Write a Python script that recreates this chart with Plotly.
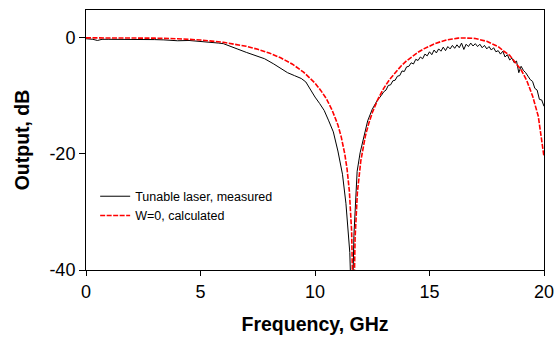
import plotly.graph_objects as go

# Measured (tunable laser) response
meas_f = [0.0, 0.3, 0.5, 0.7, 1.0, 1.5, 2.0, 2.45, 2.6, 3.0, 3.4, 3.7, 4.0, 4.5, 5.0, 5.5, 5.8,
          6.0, 6.3, 6.6, 7.0, 7.4, 7.8, 8.2, 8.5, 8.8, 9.1, 9.4, 9.6, 9.8, 10.0, 10.2,
          10.4, 10.6, 10.8, 11.0, 11.2, 11.35, 11.45, 11.52, 11.58, 11.64, 11.7, 11.75,
          11.84, 11.97, 12.1, 12.3, 12.5, 12.7,
          12.9, 13.0, 13.1, 13.2, 13.3, 13.4, 13.5, 13.6, 13.7, 13.8, 13.9, 14.0, 14.1,
          14.2, 14.3, 14.4, 14.5, 14.6, 14.7, 14.8, 14.9, 15.0, 15.1, 15.2, 15.3, 15.4,
          15.5, 15.6, 15.7, 15.8, 15.9, 16.0, 16.1, 16.2, 16.3, 16.4, 16.5, 16.6, 16.7,
          16.8, 16.9, 17.0, 17.1, 17.2, 17.3, 17.4, 17.5, 17.6, 17.7, 17.8, 17.9, 18.0,
          18.1, 18.2, 18.3, 18.4, 18.5, 18.6, 18.7, 18.8, 18.9, 19.0, 19.1, 19.2, 19.3,
          19.4, 19.5, 19.6, 19.7, 19.8, 19.9, 20.0]
meas_db = [-0.15, -0.25, -0.45, -0.25, -0.25, -0.25, -0.25, -0.2, -0.3, -0.3, -0.35, -0.45, -0.5, -0.45, -0.6, -0.7, -0.9,
           -1.0, -1.5, -1.9, -2.5, -3.0, -3.6, -4.5, -5.3, -6.0, -6.5, -7.0, -7.6, -9.0, -10.2, -11.3,
           -12.5, -14.3, -16.2, -19.5, -23.5, -28.5, -33.0, -37.0, -45.0, -45.0, -34.0, -29.0,
           -23.0, -19.8, -17.5, -14.3, -12.3, -10.9,
           -9.9, -9.3, -9.0, -8.2, -8.1, -7.4, -7.3, -6.6, -6.5, -5.7, -5.8, -5.0, -4.9,
           -4.3, -4.5, -3.7, -3.9, -3.3, -3.6, -2.8, -3.1, -2.4, -2.9, -2.1, -2.6, -1.9,
           -2.3, -1.6, -2.2, -1.5, -1.9, -1.3, -1.8, -1.2, -1.7, -0.9, -2.0, -1.1, -1.5,
           -0.9, -1.4, -1.0, -1.5, -1.1, -1.7, -1.3, -1.9, -1.5, -2.1, -1.7, -2.4, -2.2,
           -2.8, -2.3, -3.3, -2.9, -3.8, -3.5, -4.3, -4.0, -6.0, -4.9, -5.6, -6.0, -6.6,
           -7.2, -7.5, -8.7, -9.0, -10.6, -10.7, -11.8]

# Calculated response (W=0)
calc_f = [0, 1, 2, 3, 4, 5, 6, 6.5, 7, 7.5, 8, 8.5, 9, 9.5, 10, 10.25, 10.5, 10.75, 11, 11.15,
          11.3, 11.4, 11.5, 11.6, 11.68, 11.75, 11.85, 12.0, 12.1, 12.2, 12.35, 12.5, 12.75,
          13.0, 13.25, 13.5, 13.75, 14.0, 14.25, 14.5, 14.75, 15.0, 15.25, 15.5, 15.75, 16.0,
          16.25, 16.5, 16.75, 17.0, 17.25, 17.5, 17.75, 18.0, 18.25, 18.5, 18.75, 19.0, 19.25,
          19.5, 19.75, 20.0]
calc_db = [0, 0, -0.01, -0.05, -0.15, -0.37, -0.77, -1.07, -1.46, -1.97, -2.6, -3.44, -4.5, -5.9,
           -7.8, -9.05, -10.5, -12.47, -15.0, -17.15, -20.0, -22.6, -26.4, -33.4, -50, -34.5,
           -26.7, -21.2, -18.8, -16.9, -14.7, -12.9, -10.56, -8.7, -7.22, -5.95, -4.88, -3.95,
           -3.17, -2.48, -1.9, -1.4, -0.97, -0.65, -0.35, -0.2, -0.04, -0.02, -0.05, -0.1,
           -0.36, -0.6, -1.07, -1.5, -2.31, -3.0, -4.27, -5.5, -7.39, -10.0, -13.5, -20.5]

x_ticks = [0, 5, 10, 15, 20]
y_ticks = [-40, -20, 0]

fig = go.Figure()
fig.add_trace(go.Scatter(x=meas_f, y=meas_db, mode="lines", name="Tunable laser, measured",
                         line=dict(color="black", width=1)))
fig.add_trace(go.Scatter(x=calc_f, y=calc_db, mode="lines", name="W=0, calculated",
                         line=dict(color="#ff0000", width=1.6, dash="5px,1.5px")))

font_family = "Liberation Sans, Arial, sans-serif"
fig.update_layout(
    width=554, height=341,
    margin=dict(l=86, r=10, t=10, b=71, autoexpand=False),
    paper_bgcolor="white", plot_bgcolor="white",
    font=dict(family=font_family, color="black"),
    showlegend=True,
    legend=dict(x=0.02, y=0.34, xanchor="left", yanchor="top",
                bgcolor="rgba(0,0,0,0)", font=dict(size=12.5, family=font_family),
                tracegroupgap=0),
    xaxis=dict(range=[0, 20], tickvals=x_ticks, ticktext=[str(v) for v in x_ticks],
               showgrid=False, zeroline=False, showline=True, linecolor="black", linewidth=1,
               mirror=True, ticks="outside", ticklen=5, tickcolor="black",
               ticklabeloverflow="allow", automargin=False,
               tickfont=dict(size=18), title=dict(text="<b>Frequency, GHz</b>",
                                                   font=dict(size=19.5), standoff=16)),
    yaxis=dict(range=[-40, 4.8], tickvals=y_ticks, ticktext=[str(v) for v in y_ticks],
               showgrid=False, zeroline=False, showline=True, linecolor="black", linewidth=1,
               mirror=True, ticks="outside", ticklen=6, tickcolor="black",
               ticklabeloverflow="allow", automargin=False,
               tickfont=dict(size=18), title=dict(text="<b>Output, dB</b>",
                                                   font=dict(size=19.5), standoff=14)),
)

fig.write_html("out.html")
